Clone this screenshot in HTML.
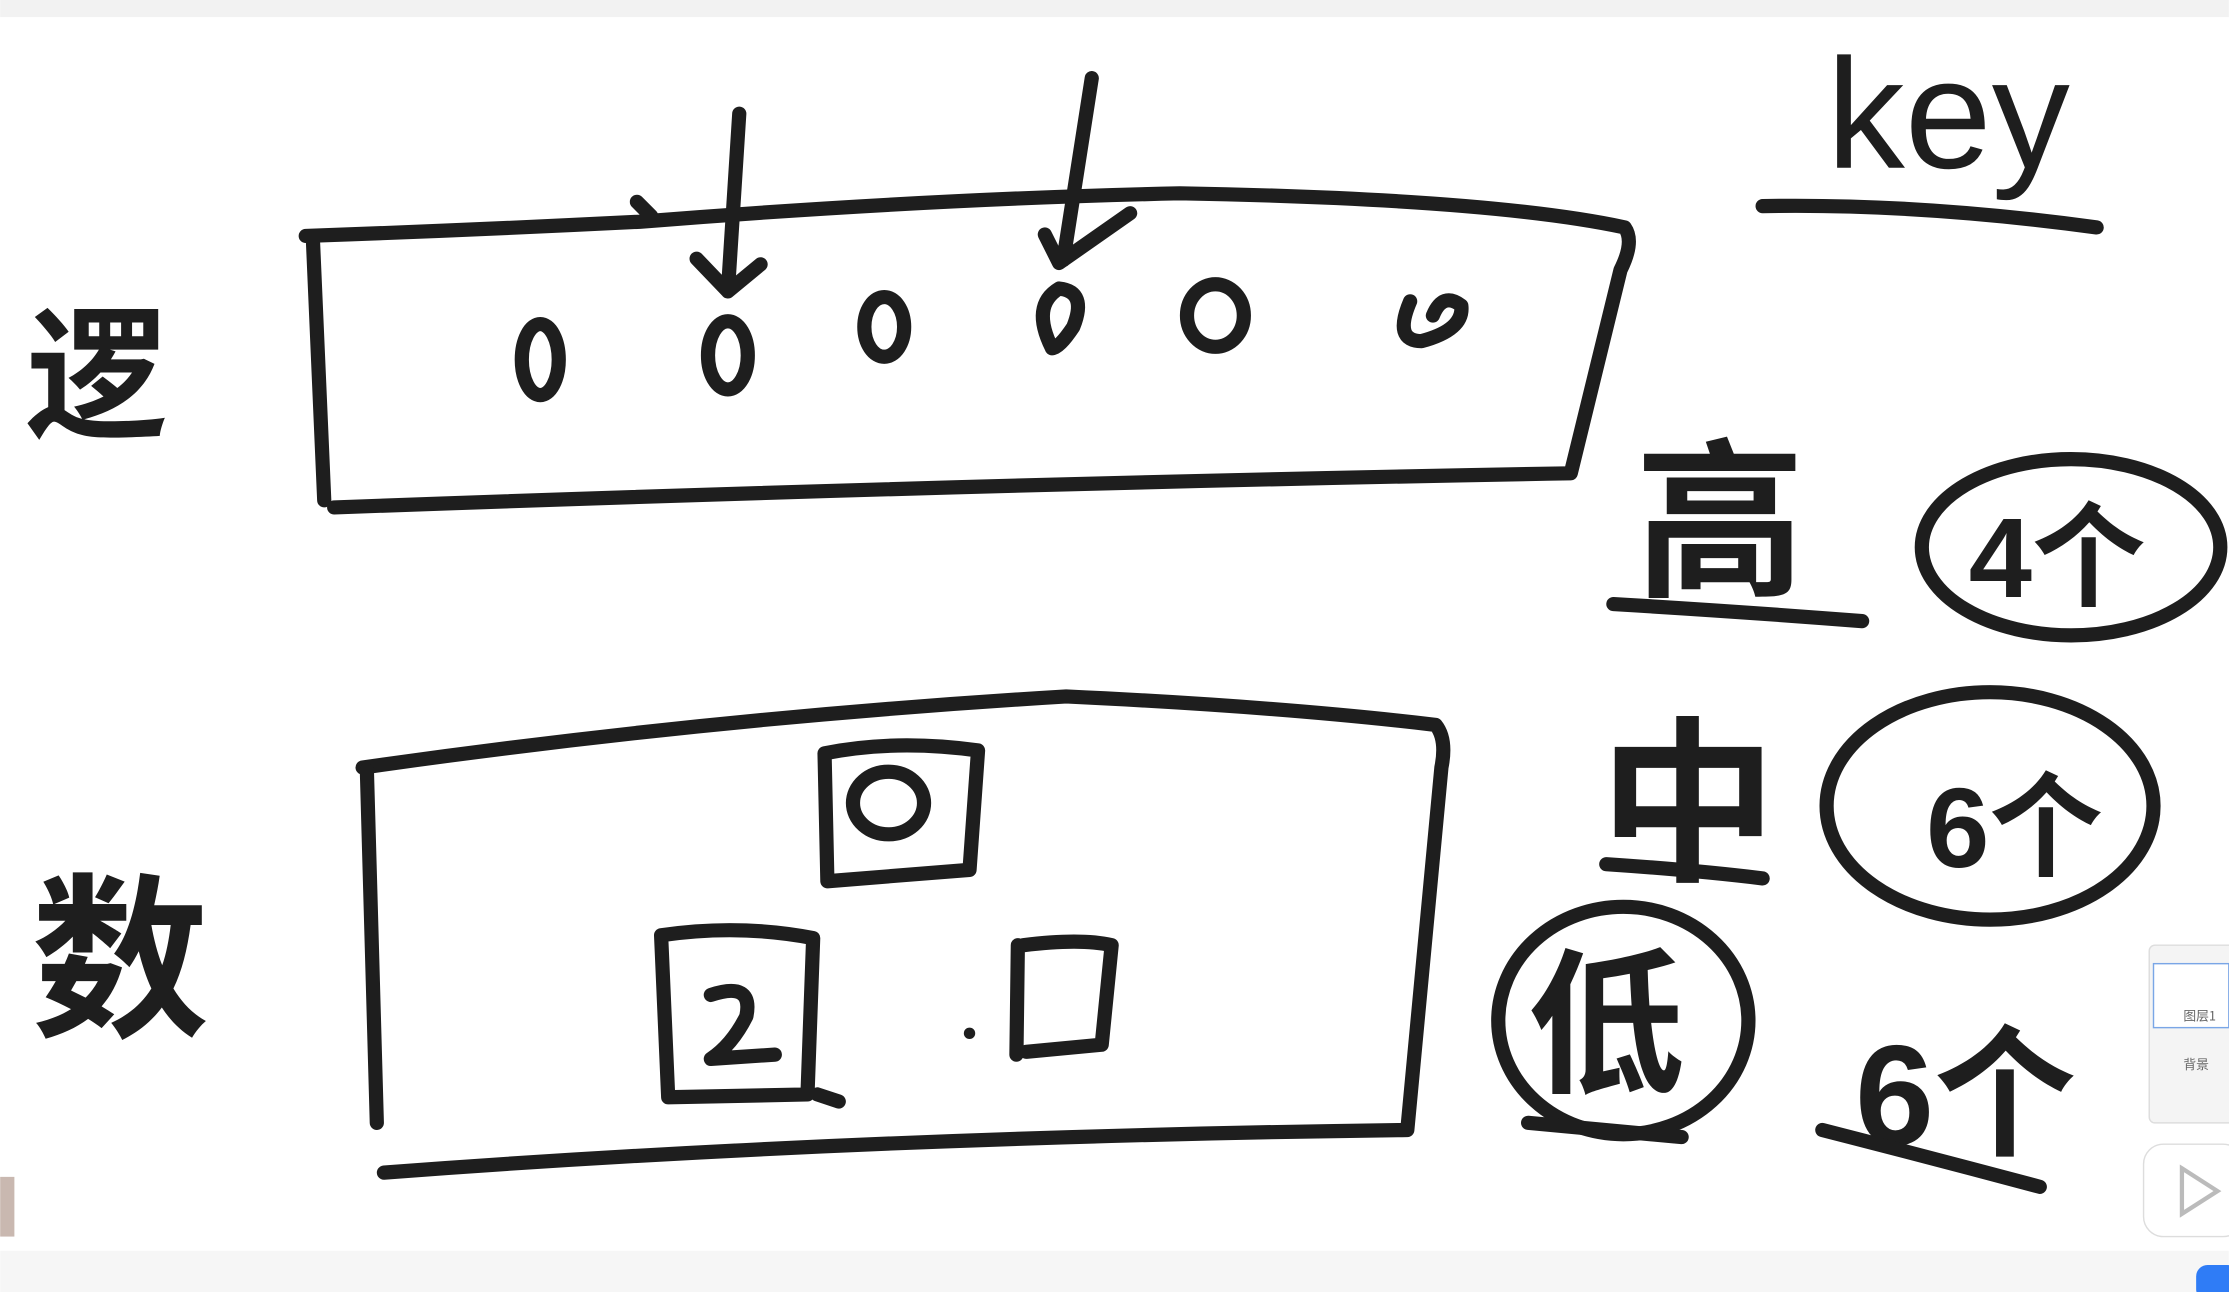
<!DOCTYPE html>
<html><head><meta charset="utf-8"><style>
html,body{margin:0;padding:0;background:#fff;overflow:hidden}
svg{display:block}
.s{fill:none;stroke:#1e1e1e;stroke-width:10;stroke-linecap:round;stroke-linejoin:round}
.t{font-family:"Liberation Sans","Noto Sans CJK SC",sans-serif;fill:#1e1e1e;font-weight:bold}
</style></head><body>
<svg width="2229" height="1292" viewBox="0 0 1568 909" xmlns="http://www.w3.org/2000/svg">
<rect width="1568" height="909" fill="#fff"/>
<rect x="0" y="0" width="1568" height="12" fill="#f2f2f2"/>
<rect x="0" y="880" width="1568" height="29" fill="#f6f6f6"/>
<rect x="0" y="828" width="10" height="42" fill="#c9b8b0"/>

<g>
<path class="s" d="M215,166 Q330,162 450,156 Q650,140 830,136 Q1050,140 1143,160 Q1150,170 1140,190 L1105,333 Q700,340 235,357"/>
<path class="s" d="M220,168 L228,352"/>
<path class="s" d="M448,142 L458,152"/>
</g>
<g>
<path class="s" d="M520,80 L512,205 M490,182 L512,205 L535,186"/>
<path class="s" d="M768,55 L748,183 M735,165 L745,185 L795,150"/>
</g>
<g>
<ellipse class="s" cx="380" cy="253" rx="13" ry="25"/>
<ellipse class="s" cx="512" cy="250" rx="14" ry="24" stroke-width="11"/>
<ellipse class="s" cx="622" cy="230" rx="14" ry="21"/>
<path class="s" d="M740,245 Q725,215 745,203 Q765,205 755,230 Q745,245 740,245"/>
<ellipse class="s" cx="855" cy="222" rx="20" ry="22" stroke-width="12"/>
<path class="s" d="M992,212 Q980,240 1000,240 Q1030,232 1028,215 Q1015,205 1008,222"/>
</g>
<text class="t" x="18" y="300" font-size="100">逻</text>

<g>
<path class="s" d="M255,540 Q500,505 750,490 Q900,497 1010,510 Q1018,520 1014,540 L990,795 Q600,800 270,825"/>
<path class="s" d="M258,542 L265,790"/>
<path class="s" d="M580,530 Q630,520 688,528 L682,612 L582,620 Z"/>
<ellipse class="s" cx="625" cy="565" rx="25" ry="22"/>
<path class="s" d="M465,658 Q520,650 572,660 L568,770 L470,772 Z M575,770 L590,775"/>
<path class="s" d="M500,700 Q530,690 525,715 Q515,735 500,745 L545,742"/>
<path class="s" d="M716,665 L715,742 M720,665 Q760,660 782,665 L775,735 L722,740"/>
<circle cx="682" cy="727" r="4" fill="#1e1e1e"/>
</g>
<text class="t" x="22" y="720" font-size="125">数</text>

<text x="1285" y="118" font-size="110" style="font-family:'Liberation Sans',sans-serif;fill:#1e1e1e;font-weight:normal">key</text>
<path class="s" d="M1240,145 Q1350,143 1475,160"/>

<text class="t" x="1150" y="410" font-size="120">高</text>
<path class="s" d="M1135,425 Q1220,430 1310,437"/>
<g>
<ellipse class="s" cx="1457" cy="385" rx="105" ry="62"/>
<text class="t" x="1385" y="420" font-size="80">4个</text>
</g>

<text class="t" x="1125" y="610" font-size="125">中</text>
<path class="s" d="M1130,608 Q1190,612 1240,618"/>
<g>
<ellipse class="s" cx="1400" cy="567" rx="115" ry="80"/>
<text class="t" x="1355" y="610" font-size="80">6个</text>
</g>

<g>
<ellipse class="s" cx="1142" cy="718" rx="88" ry="80"/>
<text class="t" x="1075" y="760" font-size="110">低</text>
<path class="s" d="M1075,790 Q1130,795 1183,800"/>
</g>
<g>
<text class="t" x="1305" y="805" font-size="100">6个</text>
<path class="s" d="M1282,795 Q1360,815 1435,835"/>
</g>

<g>
<rect x="1512" y="665" width="60" height="125" rx="4" fill="#f4f4f4" stroke="#ddd"/>
<rect x="1515" y="678" width="53" height="45" fill="#fff" stroke="#7aa6e6"/>
<text x="1536" y="718" font-size="9" fill="#666" font-family="Noto Sans CJK SC,sans-serif">图层1</text>
<text x="1536" y="752" font-size="9" fill="#666" font-family="Noto Sans CJK SC,sans-serif">背景</text>
</g>
<g>
<rect x="1508" y="805" width="70" height="65" rx="14" fill="#fff" stroke="#ddd"/>
<path d="M1535,822 L1560,838 L1535,854 Z" fill="none" stroke="#bbb" stroke-width="3"/>
</g>
<rect x="1545" y="890" width="30" height="25" rx="8" fill="#2f7cf6"/>
</svg>
</body></html>
